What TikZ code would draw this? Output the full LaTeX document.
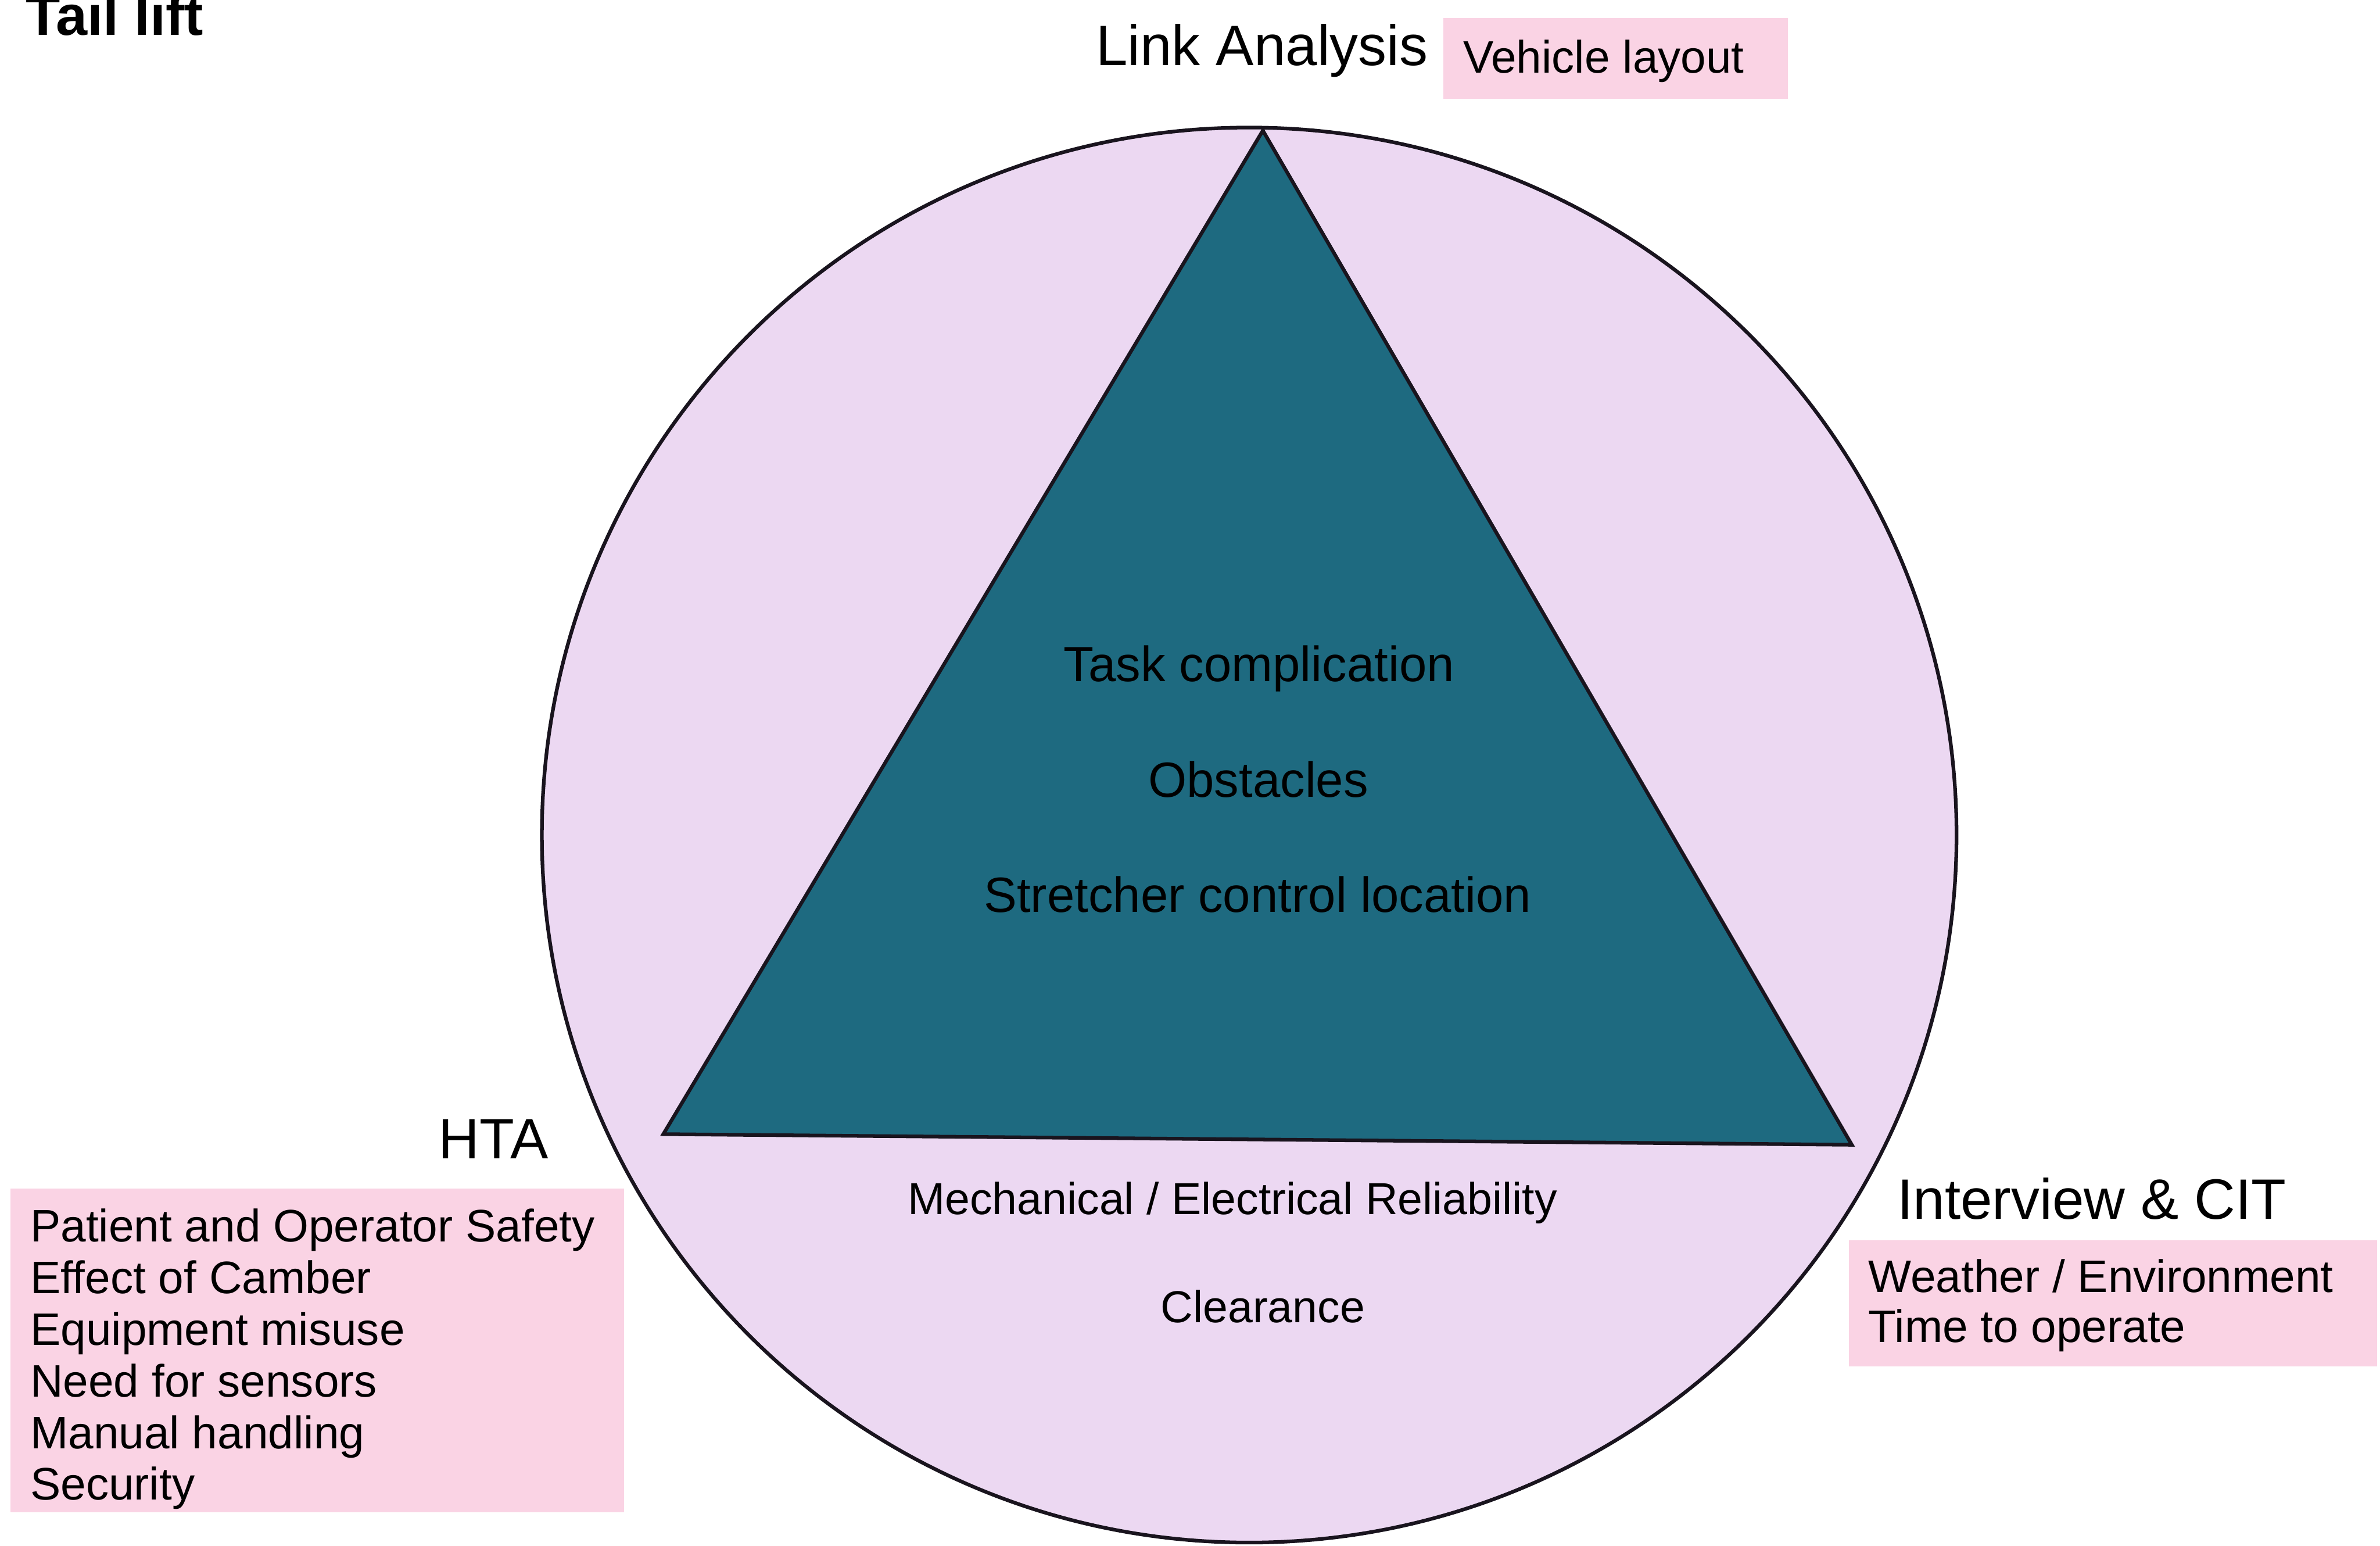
\documentclass[tikz,border=0pt]{standalone}
\usepackage{fontspec}
\setmainfont{Liberation Sans}
\definecolor{discfill}{RGB}{236,216,242}
\definecolor{trifill}{RGB}{30,106,128}
\definecolor{notefill}{RGB}{250,211,228}
\definecolor{inkline}{RGB}{25,20,30}
\begin{document}
\begin{tikzpicture}[x=1pt,y=-1pt,
  every node/.style={inner sep=0pt, outer sep=0pt, text=black},
  method/.style={font=\fontsize{37.5}{42}\selectfont},
  heading/.style={font=\fontsize{37.2}{42}\selectfont\bfseries},
  inner/.style={font=\fontsize{32.6}{36}\selectfont, anchor=base},
  lower/.style={font=\fontsize{29.5}{34}\selectfont, anchor=base},
  item/.style={font=\fontsize{30}{34}\selectfont, anchor=base west},
  notebox/.style={fill=notefill, draw=none, rectangle}
]
\useasboundingbox (0,0) rectangle (1568,1018);
\clip (0,0) rectangle (1568,1018);

% page title
\node[heading, anchor=base west] (title) at (17,23) {Tail lift};

% outer disc and inner triangle
\filldraw[fill=discfill, draw=inkline, line width=2.4pt] (823,550) circle[radius=466pt];
\filldraw[fill=trifill, draw=inkline, line width=2.4pt, line join=miter]
  (832,86) -- (437,747) -- (1220,754) -- cycle;

% texts inside the triangle
\node[inner] (task) at (829.5,449) {Task complication};
\node[inner] (obst) at (829,525) {Obstacles};
\node[inner] (stretch) at (828.5,601) {Stretcher control location};

% texts below the triangle
\node[lower] (mech) at (812,800) {Mechanical / Electrical Reliability};
\node[lower] (clear) at (832,871) {Clearance};

% Link Analysis corner
\node[method, anchor=base west] (link) at (722,43) {Link Analysis};
\node[notebox, minimum width=227pt, minimum height=53pt] (vbox) at (1064.5,38.5) {};
\node[item] (vehicle) at (964,48) {Vehicle layout};

% HTA corner
\node[method, anchor=base west] (hta) at (289,763) {HTA};
\node[notebox, minimum width=404pt, minimum height=213pt] (hbox) at (209,889.5) {};
\node[item] (h1) at (20,818) {Patient and Operator Safety};
\node[item] (h2) at (20,852) {Effect of Camber};
\node[item] (h3) at (20,886) {Equipment misuse};
\node[item] (h4) at (20,920) {Need for sensors};
\node[item] (h5) at (20,954) {Manual handling};
\node[item] (h6) at (20,988) {Security};

% Interview & CIT corner
\node[method, anchor=base west] (cit) at (1250,803) {Interview \& CIT};
\node[notebox, minimum width=348pt, minimum height=83pt] (cbox) at (1392,858.5) {};
\node[item] (c1) at (1231,851) {Weather / Environment};
\node[item] (c2) at (1231,884) {Time to operate};
\end{tikzpicture}
\end{document}
